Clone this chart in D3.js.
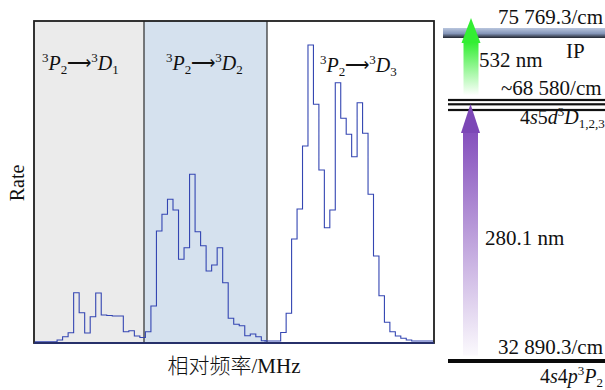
<!DOCTYPE html>
<html>
<head>
<meta charset="utf-8">
<script src="https://cdn.jsdelivr.net/npm/d3@7"></script>
<style>
  html, body { margin: 0; padding: 0; background: #fff; }
  svg { display: block; }
  text { font-family: "Liberation Serif", "Times New Roman", serif; fill: #111; }
</style>
</head>
<body>
<svg id="chart" width="605" height="390"></svg>
<script>
// ---------------- data ----------------
// relative frequency axis (arbitrary MHz units), three transition windows
const panelEdges = [0, 110, 233, 400];
const panelNames = [["D", "1"], ["D", "2"], ["D", "3"]];

// scan A (covers 3P2->3D1 and 3P2->3D2 windows)
const scanAStart = 1;
const scanAStep = 5.52;
const scanARate = [1.3, 1.3, 1.3, 1.3, 3, 6.3, 10.3, 50.3, 30.3, 10, 26.3, 50, 28, 27.5, 27, 27,
  11.3, 12.3, 7, 5.5, 11.3, 37, 112, 128.7, 143.7, 133, 83.7, 95.3, 168.7, 111.3,
  97.3, 72, 78, 95.3, 60.3, 24.7, 18.7, 17.3, 7.3, 9, 6.3, 2.3];

// scan B (3P2->3D3 window)
const scanBStart = 230.3;
const scanBStep = 5.46;
const scanBRate = [2, 2, 2, 10.5, 29.7, 104, 134, 197, 298, 238.7, 173, 115.3, 133, 260.3,
  224.7, 208.7, 186.3, 240.3, 209.7, 148.7, 87, 47.3, 20.7, 11.3, 7, 4.7, 3, 2, 2, 2, 2];

// energy levels (cm^-1)
const levelIP = 75769.3;
const levelD = 68580;
const levelP = 32890.3;
const laser1 = "280.1 nm";
const laser2 = "532 nm";

// ---------------- drawing ----------------
const svg = d3.select("#chart");
const defs = svg.append("defs");

const x = d3.scaleLinear().domain([0, 400]).range([34, 434]);
const y = d3.scaleLinear().domain([0, 322]).range([343, 21]);

const panelFills = ["#ebebeb", "#d5e1ee", "#ffffff"];
for (let i = 0; i < 3; i++) {
  svg.append("rect")
    .attr("x", x(panelEdges[i])).attr("y", y(322))
    .attr("width", x(panelEdges[i + 1]) - x(panelEdges[i]))
    .attr("height", y(0) - y(322))
    .attr("fill", panelFills[i]);
}
// dividers
[panelEdges[1], panelEdges[2]].forEach(v => {
  svg.append("line").attr("x1", x(v)).attr("x2", x(v)).attr("y1", y(322)).attr("y2", y(0))
    .attr("stroke", "#2a2a2a").attr("stroke-width", 1.2);
});

// histogram step lines
function stepData(start, step, vals) {
  const pts = vals.map((v, i) => [start + i * step, v]);
  pts.push([start + vals.length * step, vals[vals.length - 1]]);
  return pts;
}
const line = d3.line().x(d => x(d[0])).y(d => y(d[1])).curve(d3.curveStepAfter);
[[scanAStart, scanAStep, scanARate], [scanBStart, scanBStep, scanBRate]].forEach(s => {
  svg.append("path").attr("d", line(stepData(s[0], s[1], s[2])))
    .attr("fill", "none").attr("stroke", "#3446b2").attr("stroke-width", 1.1);
});

// frame
svg.append("rect").attr("x", x(0)).attr("y", y(322))
  .attr("width", x(400) - x(0)).attr("height", y(0) - y(322))
  .attr("fill", "none").attr("stroke", "#1e1e1e").attr("stroke-width", 1.8);
svg.append("line").attr("x1", x(0)).attr("x2", x(400)).attr("y1", y(0)).attr("y2", y(0))
  .attr("stroke", "#27306a").attr("stroke-width", 2);

// panel labels
const labelX = [42, 166, 320];
panelNames.forEach((nm, i) => {
  const t = svg.append("text").attr("x", labelX[i]).attr("y", i === 2 ? 72 : 70).attr("font-size", 20);
  t.append("tspan").attr("font-size", 13).attr("dy", -8).text("3");
  t.append("tspan").attr("font-style", "italic").attr("dy", 8).text("P");
  t.append("tspan").attr("font-size", 13).attr("dy", 4).text("2");
  t.append("tspan").attr("dy", -5).style("font-family", "'DejaVu Sans', sans-serif")
    .attr("font-size", 17).attr("font-weight", 300).text("⟶");
  t.append("tspan").attr("font-size", 13).attr("dy", -7).text("3");
  t.append("tspan").attr("font-style", "italic").attr("dy", 8).text(nm[0]);
  t.append("tspan").attr("font-size", 13).attr("dy", 4).text(nm[1]);
});

// axis titles
svg.append("text").attr("transform", "translate(24,183) rotate(-90)")
  .attr("text-anchor", "middle").attr("font-size", 20).text("Rate");
const xt = svg.append("text").attr("x", 234).attr("y", 373).attr("text-anchor", "middle").attr("font-size", 21);
xt.append("tspan").style("font-family", "'Noto Sans CJK SC', sans-serif").attr("font-weight", 300).text("相对频率");
xt.append("tspan").text("/MHz");

// ---------------- energy level diagram (not to scale) ----------------
const e = d3.scaleLinear().domain([levelP, levelD, levelIP]).range([361, 104, 33]);
const lx0 = 443, lx1 = 605;

const gIP = defs.append("linearGradient").attr("id", "gIP").attr("x1", 0).attr("x2", 0).attr("y1", 0).attr("y2", 1);
gIP.append("stop").attr("offset", "0%").attr("stop-color", "#b9c6de");
gIP.append("stop").attr("offset", "55%").attr("stop-color", "#8495b8");
gIP.append("stop").attr("offset", "100%").attr("stop-color", "#20242e");
svg.append("rect").attr("x", lx0).attr("y", e(levelIP) - 5).attr("width", lx1 - lx0).attr("height", 10)
  .attr("fill", "url(#gIP)");

// 4s5d 3D1,2,3 triplet
[-4, 0.3, 6].forEach(o => {
  svg.append("rect").attr("x", 448).attr("y", e(levelD) - 1.1 + o).attr("width", lx1 - 448).attr("height", 2.2)
    .attr("fill", "#111");
});
// ground 4s4p 3P2
svg.append("rect").attr("x", 448).attr("y", e(levelP) - 2).attr("width", lx1 - 448).attr("height", 4)
  .attr("fill", "#0a0a0a");

// arrows
const gGreen = defs.append("linearGradient").attr("id", "gGreen").attr("x1", 0).attr("x2", 0).attr("y1", 0).attr("y2", 1);
gGreen.append("stop").attr("offset", "0%").attr("stop-color", "#33ee33");
gGreen.append("stop").attr("offset", "100%").attr("stop-color", "#33ee33").attr("stop-opacity", 0);
const gPurple = defs.append("linearGradient").attr("id", "gPurple").attr("x1", 0).attr("x2", 0).attr("y1", 0).attr("y2", 1);
gPurple.append("stop").attr("offset", "0%").attr("stop-color", "#8550bd");
gPurple.append("stop").attr("offset", "100%").attr("stop-color", "#8550bd").attr("stop-opacity", 0.03);

function arrow(cx, tipY, headY, tailY, fillHead, fillShaft) {
  svg.append("rect").attr("x", cx - 7.5).attr("y", headY - 0.5).attr("width", 15).attr("height", tailY - headY)
    .attr("fill", fillShaft);
  svg.append("path").attr("d", `M${cx},${tipY} L${cx + 9.5},${headY} L${cx - 9.5},${headY} Z`).attr("fill", fillHead);
}
arrow(471, e(levelIP) - 15, 43, 96, "#33ee33", "url(#gGreen)");
arrow(470.5, e(levelD), 133, 356, "#7c47b6", "url(#gPurple)");

// level labels
const fmt = v => d3.format(",.1f")(v).replace(",", " ");
svg.append("text").attr("x", 498).attr("y", 24).attr("font-size", 21).text(fmt(levelIP) + "/cm");
svg.append("text").attr("x", 566).attr("y", 58).attr("font-size", 21).text("IP");
svg.append("text").attr("x", 479).attr("y", 67).attr("font-size", 21).text(laser2);
svg.append("text").attr("x", 501).attr("y", 95).attr("font-size", 21).text("~" + d3.format(",")(levelD).replace(",", " ") + "/cm");
svg.append("text").attr("x", 485).attr("y", 245).attr("font-size", 21).text(laser1);
svg.append("text").attr("x", 498).attr("y", 354).attr("font-size", 21).text(fmt(levelP) + "/cm");

const t1 = svg.append("text").attr("x", 520).attr("y", 124).attr("font-size", 20);
t1.append("tspan").text("4");
t1.append("tspan").attr("font-style", "italic").text("s");
t1.append("tspan").text("5");
t1.append("tspan").attr("font-style", "italic").text("d");
t1.append("tspan").attr("font-size", 13).attr("dy", -8).text("3");
t1.append("tspan").attr("font-style", "italic").attr("dy", 8).text("D");
t1.append("tspan").attr("font-size", 13).attr("dy", 4).text("1,2,3");

const t2 = svg.append("text").attr("x", 540).attr("y", 383).attr("font-size", 20);
t2.append("tspan").text("4");
t2.append("tspan").attr("font-style", "italic").text("s");
t2.append("tspan").text("4");
t2.append("tspan").attr("font-style", "italic").text("p");
t2.append("tspan").attr("font-size", 13).attr("dy", -8).text("3");
t2.append("tspan").attr("font-style", "italic").attr("dy", 8).text("P");
t2.append("tspan").attr("font-size", 13).attr("dy", 4).text("2");
</script>
</body>
</html>
